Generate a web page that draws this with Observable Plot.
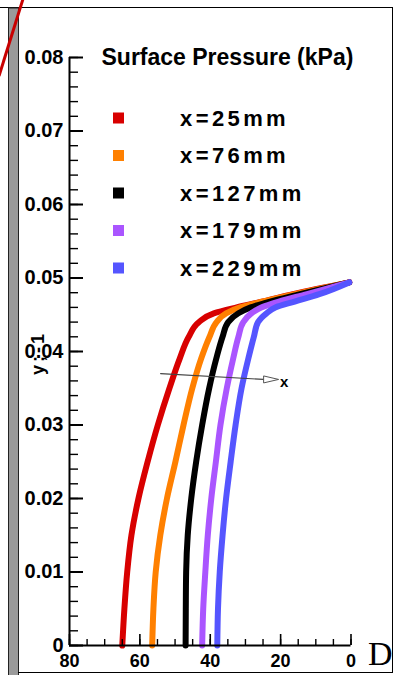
<!DOCTYPE html>
<html><head><meta charset="utf-8">
<script src="https://cdn.jsdelivr.net/npm/d3@7"></script>
<script src="https://cdn.jsdelivr.net/npm/@observablehq/plot@0.6"></script>
<style>
html,body{margin:0;padding:0;background:#fff;}
#wrap{position:relative;width:396px;height:675px;overflow:hidden;background:#fff;}
#wrap svg{position:absolute;left:0;top:0;}
</style></head><body><div id="wrap"></div>
<script>
// ---- series ----
const seriesNames = ["x=25mm", "x=76mm", "x=127mm", "x=179mm", "x=229mm"];
const seriesColors = ["#d80000", "#ff8000", "#000000", "#aa55ff", "#5555ff"];

// y levels shared by all series
const yLevels = [0, 0.005, 0.010, 0.015, 0.020, 0.025, 0.030, 0.035, 0.039, 0.042, 0.044, 0.0452, 0.046, 0.0468, 0.0478, 0.0494];

const d25  = [65.0, 64.4, 63.6, 62.4, 60.4, 57.8, 54.9, 51.6, 48.7, 46.1, 43.2, 39.0, 32.5, 25.0, 16.5, 0.5];
const d76  = [56.5, 56.15, 55.5, 54.2, 52.3, 49.9, 47.6, 45.1, 42.6, 40.2, 38.2, 35.5, 31.5, 25.0, 16.0, 0.5];
const d127 = [47.0, 46.95, 46.85, 46.4, 45.4, 44.0, 42.3, 40.3, 38.3, 36.5, 34.9, 32.0, 28.5, 23.0, 14.5, 0.5];
const d179 = [42.3, 42.0, 41.4, 40.7, 39.7, 38.4, 37.1, 35.3, 33.5, 32.0, 30.6, 28.3, 25.5, 20.5, 12.5, 0.5];
const d229 = [38.0, 37.8, 37.3, 36.5, 35.5, 34.2, 32.8, 31.1, 29.2, 27.6, 26.4, 24.0, 21.5, 16.0, 9.0, 0.5];

// ---- axes ----
const xMajor = [80, 60, 40, 20, 0];
const xTickLabels = ["80", "60", "40", "20", "0"];
const yMajor = [0, 0.01, 0.02, 0.03, 0.04, 0.05, 0.06, 0.07, 0.08];
const yTickLabels = ["0", "0.01", "0.02", "0.03", "0.04", "0.05", "0.06", "0.07", "0.08"];
const xMinor = d3.range(0, 81, 5);
const yMinor = d3.range(0, 41).map(i => i * 0.002);

// ---- texts ----
const legendTitle = "Surface Pressure (kPa)";
const yLabel = "y;-1";
const xLabelCut = "D";
// annotation (data coordinates)
const arrowX = [54.1, 24.9];
const arrowY = [0.0370, 0.0362];
const arrowHead = [{x: 22.7, y: 0.0362}];
const arrowLabel = [{x: 19.0, y: 0.0358, t: "x"}];

const seriesX = [d25, d76, d127, d179, d229];
const rows = [];
seriesNames.forEach((name, i) => seriesX[i].forEach((x, j) => rows.push({series: name, x, y: yLevels[j]})));

const W = 396, H = 675;
const mL = 69, mR = 45.5, mT = 57, mB = 30;
const ppuX = (W - mL - mR) / 80;
const ppuY = (H - mT - mB) / 0.08;

const headSymbol = {draw(ctx) { ctx.moveTo(-7.5, -3.5); ctx.lineTo(7.5, 0); ctx.lineTo(-7.5, 3.5); ctx.closePath(); }};

const chart = Plot.plot({
  width: W, height: H,
  marginLeft: mL, marginRight: mR, marginTop: mT, marginBottom: mB,
  style: {fontFamily: "'Liberation Sans', Arial, sans-serif", background: "transparent", overflow: "visible", color: "#000"},
  x: {domain: [80, 0]},
  y: {domain: [0, 0.08]},
  color: {domain: seriesNames, range: seriesColors},
  marks: [
    Plot.line(rows, {x: "x", y: "y", z: "series", stroke: "series", strokeWidth: 6, curve: "monotone-y", strokeLinejoin: "round"}),
    Plot.line(arrowX.map((x, i) => ({x, y: arrowY[i]})), {x: "x", y: "y", stroke: "#444", strokeWidth: 1.2}),
    Plot.dot(arrowHead, {x: "x", y: "y", symbol: headSymbol, fill: "white", stroke: "#555", strokeWidth: 1}),
    Plot.text(arrowLabel, {x: "x", y: "y", text: "t", fontSize: 15, fontWeight: "bold", fill: "#000"}),
    // axis lines
    Plot.ruleX([80], {y1: 0, y2: 0.08, stroke: "#000", strokeWidth: 2}),
    Plot.ruleY([0], {x1: 80, x2: 0, stroke: "#000", strokeWidth: 2}),
    // ticks pointing inward
    Plot.ruleY(yMinor, {x1: 80, x2: 80 - 9 / ppuX, stroke: "#000", strokeWidth: 1.4}),
    Plot.ruleY(yMajor, {x1: 80, x2: 80 - 14 / ppuX, stroke: "#000", strokeWidth: 2}),
    Plot.ruleX(xMinor, {y1: 0, y2: 6 / ppuY, stroke: "#000", strokeWidth: 1.4}),
    Plot.ruleX(xMajor, {y1: 0, y2: 11 / ppuY, stroke: "#000", strokeWidth: 1.6}),
    Plot.axisY(yMajor, {anchor: "left", tickSize: 0, tickPadding: 6, label: null, fontSize: 20, fontWeight: "bold", fill: "#000",
      tickFormat: d => yTickLabels[yMajor.indexOf(d)]}),
    Plot.axisX(xMajor, {anchor: "bottom", tickSize: 0, tickPadding: 9, label: null, fontSize: 18, fontWeight: "bold", fill: "#000",
      tickFormat: d => xTickLabels[xMajor.indexOf(d)]})
  ]
});

const wrap = document.getElementById("wrap");
wrap.appendChild(chart);

// ---- overlay: frame, legend, labels ----
const ov = d3.select(wrap).append("svg")
  .attr("width", W).attr("height", H)
  .style("pointer-events", "none")
  .style("font-family", "'Liberation Sans', Arial, sans-serif");

ov.append("line").attr("x1", 0).attr("y1", 7.5).attr("x2", 392.5).attr("y2", 7.5).attr("stroke", "#000").attr("stroke-width", 1);
ov.append("rect").attr("x", 8.5).attr("y", 8).attr("width", 10).attr("height", 670).attr("fill", "#9a9a9a").attr("stroke", "#222").attr("stroke-width", 1);
ov.append("line").attr("x1", 392.5).attr("y1", 7).attr("x2", 392.5).attr("y2", 673).attr("stroke", "#000").attr("stroke-width", 1);
ov.append("line").attr("x1", 18).attr("y1", 672.5).attr("x2", 393).attr("y2", 672.5).attr("stroke", "#000").attr("stroke-width", 1);
ov.append("line").attr("x1", 23).attr("y1", -1).attr("x2", -1).attr("y2", 76).attr("stroke", "#c80000").attr("stroke-width", 3);

// cut-off axis title
ov.append("defs").append("clipPath").attr("id", "clipD").append("rect").attr("x", 0).attr("y", 0).attr("width", 392).attr("height", 672);
ov.append("text").attr("clip-path", "url(#clipD)").attr("x", 368).attr("y", 665)
  .style("font-family", "'Liberation Serif', 'Times New Roman', serif").style("font-size", "34px").text(xLabelCut);

// y label
ov.append("text").attr("transform", "translate(38,353) rotate(-90)")
  .attr("text-anchor", "middle").attr("dominant-baseline", "central")
  .style("font-size", "18px").style("font-weight", "bold").style("letter-spacing", "3px").text(yLabel);

// legend
ov.append("text").attr("x", 101.5).attr("y", 64.5).style("font-size", "23px").style("font-weight", "bold").text(legendTitle);
seriesNames.forEach((name, i) => {
  const cy = 118 + i * 37.5;
  ov.append("rect").attr("x", 113).attr("y", cy - 5.5).attr("width", 11).attr("height", 11).attr("fill", seriesColors[i]);
  ov.append("text").attr("x", 180).attr("y", cy + 7.8).style("font-size", "22px").style("font-weight", "bold")
    .style("letter-spacing", "3.4px").text(name);
});
</script></body></html>
